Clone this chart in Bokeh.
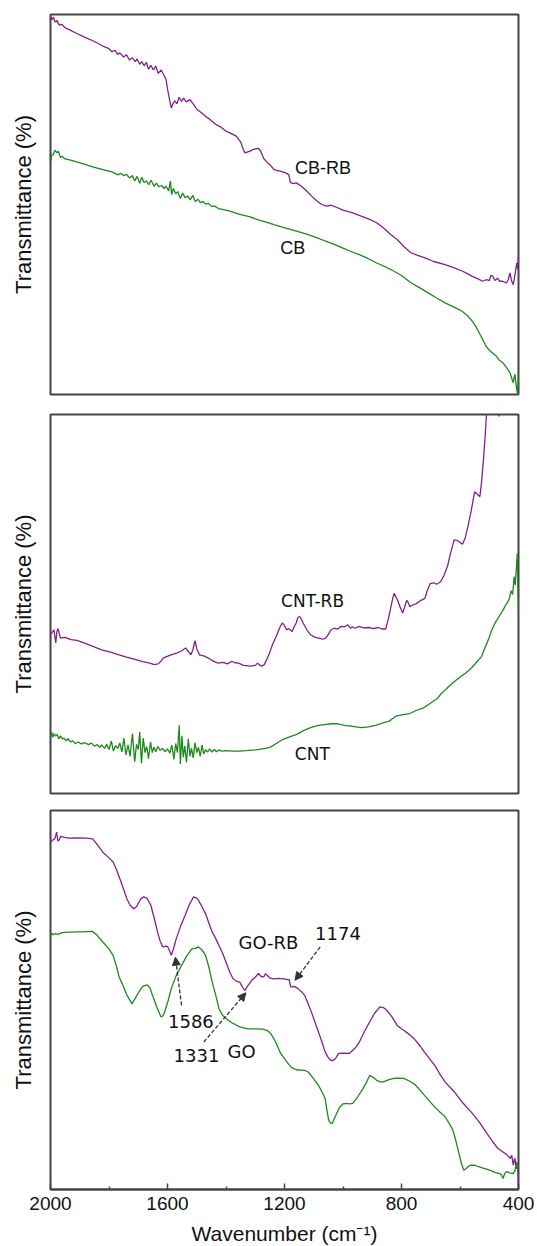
from bokeh.plotting import figure
from bokeh.layouts import column
from bokeh.models import Range1d, Arrow, NormalHead, FixedTicker
from bokeh.core.properties import value
from bokeh.embed import file_html
from bokeh.resources import INLINE

# ---------------- data (wavenumber in cm-1, transmittance in arbitrary offset units) -------------
cbrb_x = [2000, 1996, 1990, 1985, 1978, 1970, 1961, 1950, 1938, 1910, 1880, 1850, 1821, 1800, 1790, 1780,
          1770, 1763, 1750, 1740, 1730, 1720, 1710, 1704, 1695, 1688, 1680, 1672, 1665, 1657, 1648, 1640,
          1632, 1622, 1612, 1605, 1599, 1593, 1587, 1582, 1575, 1568, 1560, 1552, 1545, 1536, 1523, 1510,
          1499, 1485, 1470, 1455, 1435, 1420, 1400, 1385, 1365, 1350, 1340, 1335, 1320, 1306, 1290, 1283,
          1270, 1259, 1248, 1236, 1215, 1195, 1185, 1180, 1170, 1160, 1142, 1125, 1107, 1090, 1073, 1055,
          1040, 1026, 1000, 967, 940, 909, 885, 862, 840, 815, 790, 768, 745, 722, 690, 651, 620, 593, 575,
          558, 540, 523, 510, 500, 494, 488, 480, 472, 464, 455, 441, 435, 429, 424, 418, 412, 406, 403, 400]
cbrb_y = [99.5, 98.6, 99.3, 98.0, 98.4, 97.2, 97.4, 96.5, 96.1, 95.0, 93.9, 92.9, 91.7, 91.0, 90.2, 90.6,
          89.5, 89.9, 88.8, 89.4, 88.0, 88.6, 87.6, 88.3, 86.9, 87.6, 86.5, 87.4, 85.6, 86.6, 85.4, 86.4,
          84.5, 85.4, 84.0, 82.9, 80.0, 77.6, 75.4, 76.4, 77.3, 76.5, 78.2, 77.1, 78.0, 77.0, 77.6, 76.2,
          75.0, 74.2, 73.2, 72.4, 71.1, 70.5, 69.3, 68.8, 68.0, 66.5, 64.3, 63.6, 64.0, 64.5, 64.8, 64.3,
          62.0, 61.0, 60.3, 59.2, 58.8, 58.3, 57.8, 55.8, 55.5, 55.7, 54.8, 53.6, 52.2, 51.0, 50.0, 49.6,
          49.8, 49.4, 48.5, 47.8, 47.0, 46.1, 45.2, 43.9, 42.3, 40.8, 38.8, 37.3, 36.6, 36.0, 35.0, 34.2,
          33.3, 32.5, 31.8, 31.1, 30.5, 29.8, 30.2, 30.0, 31.4, 31.1, 30.0, 30.6, 29.8, 29.8, 29.4, 30.2,
          32.0, 30.0, 28.9, 31.5, 34.6, 33.0, 36.4]

cb_x = [2000, 1996, 1990, 1985, 1978, 1973, 1966, 1961, 1950, 1938, 1910, 1880, 1850, 1821, 1790, 1770,
        1760, 1750, 1740, 1730, 1720, 1712, 1704, 1695, 1688, 1680, 1672, 1664, 1656, 1646, 1638, 1630,
        1620, 1612, 1605, 1596, 1590, 1586, 1580, 1572, 1565, 1556, 1548, 1540, 1530, 1522, 1514, 1505,
        1496, 1488, 1478, 1470, 1460, 1450, 1440, 1425, 1412, 1390, 1353, 1320, 1295, 1265, 1236, 1205,
        1177, 1150, 1119, 1090, 1061, 1030, 1002, 975, 944, 915, 885, 855, 827, 800, 768, 740, 710, 680,
        651, 620, 593, 575, 558, 545, 534, 522, 511, 495, 476, 465, 453, 440, 429, 422, 418, 415, 412,
        409, 406, 403, 400]
cb_y = [61.0, 63.0, 63.2, 64.3, 63.6, 64.0, 62.4, 62.7, 62.0, 61.8, 61.2, 60.5, 59.8, 59.2, 58.6, 57.8,
        58.2, 57.6, 57.9, 57.0, 57.6, 56.2, 57.4, 55.6, 57.2, 55.8, 56.2, 55.2, 56.4, 54.8, 55.6, 54.7,
        55.0, 54.2, 54.8, 53.6, 56.2, 52.6, 54.2, 52.8, 53.4, 51.6, 53.0, 51.8, 52.2, 51.2, 52.4, 50.8,
        51.4, 50.5, 50.8, 50.1, 50.3, 49.5, 49.6, 48.9, 48.7, 48.3, 47.4, 46.8, 46.1, 45.4, 44.7, 44.0,
        43.4, 42.8, 42.1, 41.3, 40.4, 39.5, 38.6, 37.7, 36.8, 35.8, 34.6, 33.6, 32.5, 31.3, 29.4, 28.2,
        26.8, 25.4, 24.1, 23.0, 21.9, 20.8, 19.3, 17.8, 16.2, 14.4, 12.7, 11.3, 10.1, 9.0, 8.3, 7.0, 5.7,
        4.0, 3.1, 4.5, 5.3, 3.0, 1.3, 0.0, 5.7]

cntrb_x = [2000, 1994, 1988, 1982, 1978, 1974, 1968, 1965, 1950, 1930, 1910, 1883, 1855, 1825, 1795, 1766,
           1740, 1708, 1685, 1661, 1645, 1632, 1622, 1614, 1590, 1567, 1552, 1538, 1530, 1520, 1513, 1506,
           1500, 1491, 1476, 1462, 1445, 1427, 1410, 1395, 1380, 1370, 1357, 1340, 1316, 1300, 1292, 1287,
           1278, 1269, 1260, 1251, 1240, 1228, 1215, 1207, 1200, 1193, 1185, 1175, 1167, 1160, 1154, 1148,
           1142, 1135, 1122, 1111, 1095, 1082, 1070, 1059, 1050, 1041, 1030, 1018, 1006, 995, 983, 975,
           968, 959, 945, 930, 912, 895, 880, 865, 854, 845, 836, 830, 825, 819, 813, 806, 796, 790, 782,
           776, 772, 760, 749, 735, 720, 712, 702, 690, 680, 667, 655, 643, 632, 620, 610, 600, 591, 582,
           573, 562, 550, 541, 532, 526, 520, 515, 509, 500, 480, 470, 466, 462, 455, 400]
cntrb_y = [41.9, 42.5, 43.2, 39.7, 42.8, 43.5, 41.5, 41.0, 41.2, 40.6, 40.4, 39.7, 38.8, 37.9, 37.3, 36.6,
           36.0, 35.3, 34.8, 34.4, 34.0, 34.2, 34.9, 35.8, 36.5, 37.1, 37.6, 38.4, 37.6, 36.6, 38.0, 40.3,
           38.2, 36.6, 36.3, 35.8, 35.0, 34.4, 34.6, 34.2, 34.9, 34.5, 34.4, 33.8, 33.6, 33.8, 34.4, 34.0,
           33.6, 34.0, 35.5, 37.1, 39.5, 41.5, 44.0, 45.0, 44.3, 43.2, 43.5, 42.7, 44.0, 45.0, 46.5, 46.7,
           46.0, 44.8, 43.0, 41.9, 41.2, 41.0, 40.7, 41.0, 42.0, 43.2, 43.6, 43.4, 44.1, 44.0, 44.5, 43.6,
           44.0, 43.6, 44.1, 43.7, 43.8, 43.5, 43.8, 43.4, 43.4, 46.0, 49.3, 51.5, 52.8, 51.8, 51.0, 49.4,
           47.6, 49.0, 51.0, 50.2, 49.3, 49.8, 50.1, 50.9, 51.5, 53.5, 55.4, 55.6, 55.2, 55.8, 57.5, 59.9,
           63.5, 66.9, 66.8, 66.2, 65.8, 67.5, 70.4, 74.5, 79.6, 79.0, 78.3, 82.5, 87.9, 93.0, 100.5, 106.0,
           106.0, 102.0, 99.5, 101.5, 106.0, 106.0]

cnt_x = [2000, 1996, 1992, 1988, 1983, 1977, 1972, 1966, 1960, 1953, 1946, 1940, 1932, 1925, 1915, 1905,
         1895, 1883, 1870, 1860, 1850, 1840, 1832, 1825, 1815, 1808, 1800, 1792, 1785, 1778, 1770, 1763,
         1756, 1749, 1742, 1735, 1728, 1720, 1712, 1706, 1700, 1695, 1689, 1683, 1677, 1671, 1665, 1658,
         1652, 1646, 1640, 1633, 1625, 1617, 1608, 1600, 1592, 1585, 1578, 1572, 1566, 1560, 1556, 1551,
         1546, 1541, 1535, 1529, 1523, 1518, 1512, 1506, 1500, 1494, 1488, 1482, 1476, 1470, 1463, 1456,
         1448, 1440, 1432, 1424, 1415, 1400, 1380, 1357, 1330, 1298, 1275, 1251, 1228, 1205, 1180, 1158,
         1135, 1111, 1088, 1064, 1040, 1018, 995, 971, 950, 936, 912, 889, 865, 842, 830, 819, 795, 772,
         750, 725, 705, 690, 678, 667, 650, 632, 615, 597, 580, 561, 545, 526, 515, 503, 492, 480, 468,
         456, 445, 433, 425, 420, 415, 411, 407, 404, 402, 400]
cnt_y = [15.2, 16.2, 14.8, 15.8, 15.2, 15.6, 14.4, 15.2, 14.4, 14.6, 13.9, 14.5, 13.6, 13.9, 13.2, 13.6,
         13.1, 13.4, 12.9, 13.3, 12.5, 12.9, 12.2, 12.8, 11.9, 13.0, 11.6, 13.8, 11.2, 12.6, 11.9, 13.3,
         11.0, 14.6, 10.2, 12.8, 9.8, 15.8, 8.4, 13.0, 11.6, 16.2, 8.0, 14.6, 10.8, 12.4, 9.2, 13.6,
         10.8, 12.2, 11.0, 12.4, 11.4, 11.9, 11.0, 11.8, 10.6, 12.8, 9.0, 13.2, 10.8, 18.0, 7.8, 15.2,
         9.6, 12.6, 8.2, 14.4, 9.8, 12.0, 9.4, 13.4, 10.8, 12.2, 9.8, 12.8, 10.4, 11.6, 10.9, 11.8,
         10.9, 11.6, 11.0, 11.5, 11.2, 11.3, 11.2, 11.2, 11.3, 11.5, 11.8, 12.1, 13.2, 14.3, 15.0, 15.6,
         16.6, 17.4, 17.9, 18.2, 18.4, 18.4, 18.0, 17.8, 17.5, 17.4, 17.6, 18.0, 18.6, 19.1, 19.8, 20.4,
         20.8, 21.1, 21.9, 22.6, 23.6, 24.4, 25.0, 26.1, 27.4, 28.7, 29.8, 30.9, 31.8, 33.1, 34.5, 36.2,
         38.4, 40.6, 43.0, 45.0, 46.5, 48.0, 49.5, 51.1, 53.5, 52.5, 57.2, 55.0, 59.9, 63.4, 56.0, 46.7]

gorb_x = [2000, 1992, 1985, 1979, 1975, 1971, 1965, 1956, 1938, 1910, 1880, 1856, 1840, 1821, 1800, 1786,
          1775, 1763, 1750, 1739, 1728, 1716, 1706, 1698, 1690, 1681, 1670, 1657, 1645, 1634, 1625, 1616,
          1605, 1599, 1592, 1587, 1580, 1570, 1555, 1540, 1525, 1511, 1500, 1494, 1482, 1470, 1458, 1447,
          1435, 1424, 1412, 1400, 1388, 1376, 1365, 1353, 1345, 1336, 1325, 1312, 1300, 1289, 1280, 1271,
          1265, 1260, 1250, 1236, 1220, 1201, 1190, 1184, 1180, 1178, 1166, 1154, 1142, 1131, 1120, 1108,
          1096, 1084, 1072, 1061, 1052, 1043, 1035, 1026, 1018, 1014, 1000, 979, 960, 944, 928, 909, 892,
          874, 862, 850, 832, 815, 800, 792, 775, 757, 740, 722, 705, 687, 670, 651, 620, 593, 560, 534,
          510, 488, 470, 453, 440, 429, 423, 418, 414, 412, 409, 406, 403, 400]
gorb_y = [91.7, 92.2, 92.6, 94.3, 92.0, 92.1, 93.2, 93.0, 92.7, 92.8, 92.7, 92.5, 91.0, 89.0, 87.5, 86.4,
          84.5, 82.0, 79.2, 76.7, 75.0, 74.1, 74.6, 75.8, 76.8, 77.2, 76.8, 75.0, 71.5, 67.9, 65.5, 64.0,
          64.2, 64.0, 62.8, 61.8, 63.4, 66.2, 69.5, 72.3, 75.2, 77.2, 76.9, 76.3, 74.6, 72.8, 70.2, 67.9,
          66.2, 64.4, 62.4, 60.0, 57.5, 55.6, 55.0, 54.7, 53.6, 52.5, 53.8, 55.2, 56.0, 57.0, 56.2, 56.1,
          56.9, 56.6, 55.8, 55.6, 55.7, 55.6, 55.4, 55.4, 53.8, 53.4, 53.6, 53.0, 52.2, 51.2, 49.2, 46.8,
          44.2, 41.6, 38.9, 36.3, 35.0, 34.1, 34.0, 34.5, 35.6, 35.9, 36.0, 35.9, 37.2, 38.9, 41.5, 44.2,
          46.5, 48.2, 48.0, 47.3, 45.5, 43.3, 42.4, 42.0, 41.0, 39.8, 38.2, 36.3, 34.6, 32.8, 30.6, 28.4,
          25.8, 23.1, 20.3, 17.8, 15.0, 12.6, 10.8, 9.9, 9.2, 8.2, 9.0, 6.4, 8.0, 8.2, 6.0, 5.5, 7.0, 0.3]

go_x = [2000, 1995, 1990, 1985, 1975, 1960, 1938, 1900, 1856, 1840, 1821, 1800, 1786, 1775, 1765, 1757,
        1740, 1722, 1710, 1698, 1685, 1669, 1660, 1651, 1636, 1622, 1616, 1610, 1598, 1587, 1570, 1552,
        1535, 1517, 1505, 1494, 1482, 1470, 1458, 1447, 1435, 1424, 1412, 1400, 1380, 1353, 1325, 1295,
        1275, 1260, 1248, 1236, 1224, 1213, 1195, 1178, 1160, 1142, 1130, 1119, 1100, 1084, 1072, 1061,
        1055, 1049, 1043, 1037, 1025, 1014, 1002, 991, 978, 967, 950, 932, 920, 909, 897, 885, 872, 862,
        845, 827, 810, 792, 775, 757, 740, 722, 705, 687, 670, 651, 635, 625, 616, 605, 595, 587, 578,
        570, 564, 550, 534, 518, 499, 480, 464, 458, 453, 447, 441, 430, 418, 412, 406, 403, 400]
go_y = [67.0, 67.6, 67.2, 67.5, 67.3, 67.8, 67.9, 68.0, 68.1, 67.0, 65.3, 63.5, 61.8, 59.0, 56.0, 54.7,
        51.5, 49.0, 50.5, 52.1, 53.6, 54.0, 53.2, 51.2, 48.0, 45.5, 45.8, 46.8, 49.8, 53.0, 56.5, 59.1,
        61.5, 63.5, 63.6, 64.0, 63.2, 61.8, 58.5, 54.7, 51.2, 47.7, 46.0, 45.1, 44.0, 42.9, 42.4, 42.4,
        42.3, 42.0, 41.2, 39.8, 37.8, 35.9, 34.0, 32.3, 31.6, 31.5, 31.4, 31.0, 29.2, 27.5, 25.8, 24.0,
        21.0, 18.3, 17.6, 17.4, 19.5, 21.4, 22.5, 22.7, 22.6, 22.7, 24.4, 26.6, 28.2, 30.1, 29.6, 28.8,
        28.4, 28.4, 28.9, 29.3, 29.4, 29.3, 28.7, 27.9, 26.5, 24.9, 23.4, 21.8, 20.5, 19.2, 17.2, 15.8,
        13.4, 10.0, 6.8, 5.1, 5.6, 6.2, 6.4, 6.4, 6.0, 5.6, 5.1, 4.5, 4.2, 3.8, 2.9, 4.2, 4.7, 4.4, 4.2,
        5.0, 7.3, 5.2, 6.4]

x_ticks = [2000, 1600, 1200, 800, 400]
x_minor_ticks = [1800, 1400, 1000, 600]

# labels: text, x (cm-1), y (offset units)
p1_labels = ["CB-RB", "CB"]
p1_lx = [1068, 1172]
p1_ly = [59.6, 38.6]
p2_labels = ["CNT-RB", "CNT"]
p2_lx = [1104, 1105]
p2_ly = [50.8, 10.5]
p3_labels = ["GO-RB", "GO", "1174", "1586", "1331"]
p3_lx = [1255, 1347, 1017, 1520, 1501]
p3_ly = [65.3, 36.3, 67.5, 44.2, 35.4]
# arrows: start (x, y) -> end (x, y)
arr_x0 = [1078, 1552, 1476]
arr_y0 = [64.0, 48.6, 38.9]
arr_x1 = [1164, 1573, 1332]
arr_y1 = [55.2, 61.3, 51.9]

PURPLE = "#84208c"
GREEN = "#1d8a1d"
FRAME = "#444444"
SANS = "Liberation Sans"


def make_panel(frame_h, top, bottom, bottom_axis):
    p = figure(frame_width=468, frame_height=frame_h,
               x_range=Range1d(2000, 400), y_range=Range1d(0, 100),
               output_backend="svg", toolbar_location=None,
               x_axis_location="below" if bottom_axis else None,
               min_border_left=50, min_border_right=19,
               min_border_top=top, min_border_bottom=bottom)
    p.grid.visible = False
    p.background_fill_color = "white"
    p.border_fill_color = "white"
    p.outline_line_color = FRAME
    p.outline_line_width = 2
    ya = p.yaxis[0]
    ya.ticker = FixedTicker(ticks=[], minor_ticks=[])
    ya.axis_label = "Transmittance (%)"
    ya.axis_label_text_font = SANS
    ya.axis_label_text_font_size = "22px"
    ya.axis_label_text_font_style = "normal"
    ya.axis_label_text_color = "#111111"
    ya.axis_label_standoff = 15
    ya.major_tick_line_color = None
    ya.minor_tick_line_color = None
    ya.axis_line_color = None
    if bottom_axis:
        xa = p.xaxis[0]
        xa.ticker = FixedTicker(ticks=x_ticks, minor_ticks=x_minor_ticks)
        xa.axis_line_color = FRAME
        xa.axis_line_width = 2
        xa.major_tick_in = 6
        xa.major_tick_out = 0
        xa.minor_tick_in = 3
        xa.minor_tick_out = 0
        xa.major_tick_line_color = FRAME
        xa.major_tick_line_width = 1.5
        xa.minor_tick_line_color = FRAME
        xa.minor_tick_line_width = 1.5
        xa.major_label_text_font = SANS
        xa.major_label_text_font_size = "19px"
        xa.major_label_text_color = "#111111"
        xa.major_label_standoff = 7
        xa.axis_label = "Wavenumber (cm\u207b\u00b9)"
        xa.axis_label_text_font = SANS
        xa.axis_label_text_font_size = "21px"
        xa.axis_label_text_font_style = "normal"
        xa.axis_label_text_color = "#111111"
        xa.axis_label_standoff = 9
    return p


p1 = make_panel(380, 14, 10, False)
p1.line(cbrb_x, cbrb_y, line_color=PURPLE, line_width=1.3)
p1.line(cb_x, cb_y, line_color=GREEN, line_width=1.3)
p1.text(x=p1_lx, y=p1_ly, text=p1_labels, text_font=value(SANS), text_font_size="18px",
        text_align="center", text_baseline="middle", text_color="#111111")

p2 = make_panel(379, 10, 8, False)
p2.line(cntrb_x, cntrb_y, line_color=PURPLE, line_width=1.3)
p2.line(cnt_x, cnt_y, line_color=GREEN, line_width=1.3)
p2.text(x=p2_lx, y=p2_ly, text=p2_labels, text_font=value("DejaVu Sans"), text_font_size="17px",
        text_align="center", text_baseline="middle", text_color="#111111")

p3 = make_panel(379, 9, 57, True)
p3.line(gorb_x, gorb_y, line_color=PURPLE, line_width=1.3)
p3.line(go_x, go_y, line_color=GREEN, line_width=1.3)
p3.text(x=p3_lx, y=p3_ly, text=p3_labels, text_font=value("DejaVu Sans"), text_font_size="18px",
        text_align="center", text_baseline="middle", text_color="#111111")
for x0, y0, x1, y1 in zip(arr_x0, arr_y0, arr_x1, arr_y1):
    p3.add_layout(Arrow(x_start=x0, y_start=y0, x_end=x1, y_end=y1,
                        line_color="#333333", line_width=1.3, line_dash="4 2",
                        end=NormalHead(size=8, fill_color="#333333", line_color="#333333")))

layout = column(p1, p2, p3, spacing=0)
open("out.html", "w").write(file_html(layout, INLINE))
